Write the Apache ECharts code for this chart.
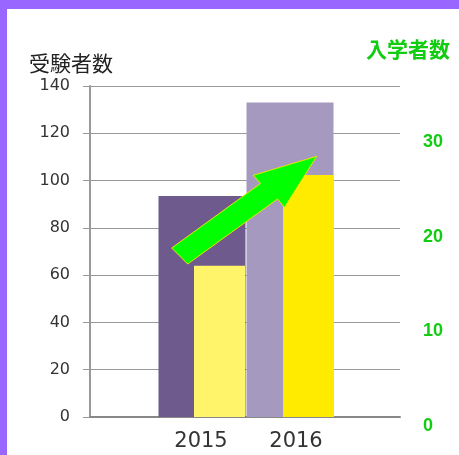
<!DOCTYPE html>
<html><head><meta charset="utf-8">
<script src="https://cdn.jsdelivr.net/npm/echarts@6/dist/echarts.min.js"></script>
<style>html,body{margin:0;padding:0;background:#fff}#c{width:459px;height:455px}</style>
</head><body><div id="c"></div>
<script>
// ---- data ----
const categories = ['2015', '2016'];
const applicants = [93.5, 133];     // 受験者数 (left axis)
const enrolled = [16, 25.6];        // 入学者数 (right axis)
const leftMax = 140, leftStep = 20;
const rightTicks = [0, 10, 20, 30];
const rightMax = 35, rightStep = 10;

// ---- styles ----
const applicantColors = ['#6f5a8e', '#a699c0'];
const enrolledColors = ['#fff46a', '#ffeb00'];
const green = '#11cc11';

const chart = echarts.init(document.getElementById('c'), null, {renderer: 'canvas'});
const G = {top: 86, height: 331};
chart.setOption({
  animation: false,
  backgroundColor: '#fff',
  title: [
    {text: '受験者数', left: 24, top: 48, textStyle: {fontSize: 21, fontWeight: 'normal', color: '#222', fontFamily: 'Noto Sans CJK JP'}},
    {text: '入学者数', left: 361, top: 34, textStyle: {fontSize: 21, fontWeight: 'bold', color: green, fontFamily: 'Noto Sans CJK JP'}}
  ],
  grid: [
    {left: 90, width: 310, top: G.top, height: G.height},
    {left: 158, width: 176, top: G.top, height: G.height},
    {left: 175, width: 178, top: G.top, height: G.height},
    {left: 153.5, width: 190, top: G.top, height: G.height}
  ],
  xAxis: [
    {gridIndex: 0, type: 'category', data: categories, axisLine: {lineStyle: {color: '#888', width: 2}}, axisTick: {show: false}, axisLabel: {show: false}},
    {gridIndex: 1, type: 'category', data: categories, show: false},
    {gridIndex: 2, type: 'category', data: categories, show: false},
    {gridIndex: 3, type: 'category', data: categories, axisLine: {show: false}, axisTick: {show: false},
      axisLabel: {fontSize: 21, color: '#333', fontFamily: 'DejaVu Sans', margin: 14}}
  ],
  yAxis: [
    {gridIndex: 0, type: 'value', position: 'left', min: 0, max: leftMax, interval: leftStep,
      axisLine: {show: true, lineStyle: {color: '#999', width: 2}},
      axisTick: {show: true, length: 7, lineStyle: {color: '#999'}},
      splitLine: {lineStyle: {color: '#999', width: 1}},
      axisLabel: {fontSize: 16, color: '#333', fontFamily: 'DejaVu Sans', margin: 20}},
    {gridIndex: 0, type: 'value', position: 'right', min: 0, max: rightMax, interval: rightStep,
      axisLine: {show: false}, axisTick: {show: false}, splitLine: {show: false},
      axisLabel: {fontSize: 18, fontWeight: 'bold', color: green, fontFamily: 'Liberation Sans', margin: 23, verticalAlign: 'top',
        formatter: v => rightTicks.indexOf(v) >= 0 ? String(v) : ''}},
    {gridIndex: 1, type: 'value', min: 0, max: leftMax, show: false},
    {gridIndex: 2, type: 'value', min: 0, max: rightMax, show: false},
    {gridIndex: 3, type: 'value', min: 0, max: 1, show: false}
  ],
  series: [
    {name: '受験者数', type: 'bar', xAxisIndex: 1, yAxisIndex: 2, barWidth: 87, z: 2,
      data: applicants.map((v, i) => ({value: v, itemStyle: {color: applicantColors[i]}}))},
    {name: '入学者数', type: 'bar', xAxisIndex: 2, yAxisIndex: 3, barWidth: 51, z: 3,
      data: enrolled.map((v, i) => ({value: v, itemStyle: {color: enrolledColors[i]}}))}
  ],
  graphic: [
    {type: 'rect', shape: {x: 0, y: 0, width: 459, height: 9}, style: {fill: '#9966ff'}, z: 10},
    {type: 'rect', shape: {x: 0, y: 0, width: 7, height: 455}, style: {fill: '#9966ff'}, z: 10},
    {type: 'polygon', z: 20,
      shape: {points: [[171.7, 248], [187.7, 264], [277.5, 199], [284.5, 207.3], [316.7, 156.3], [253.3, 175.3], [260.5, 183.5]]},
      style: {fill: '#00ff00', stroke: '#e6e600', lineWidth: 1}}
  ]
});
</script></body></html>
